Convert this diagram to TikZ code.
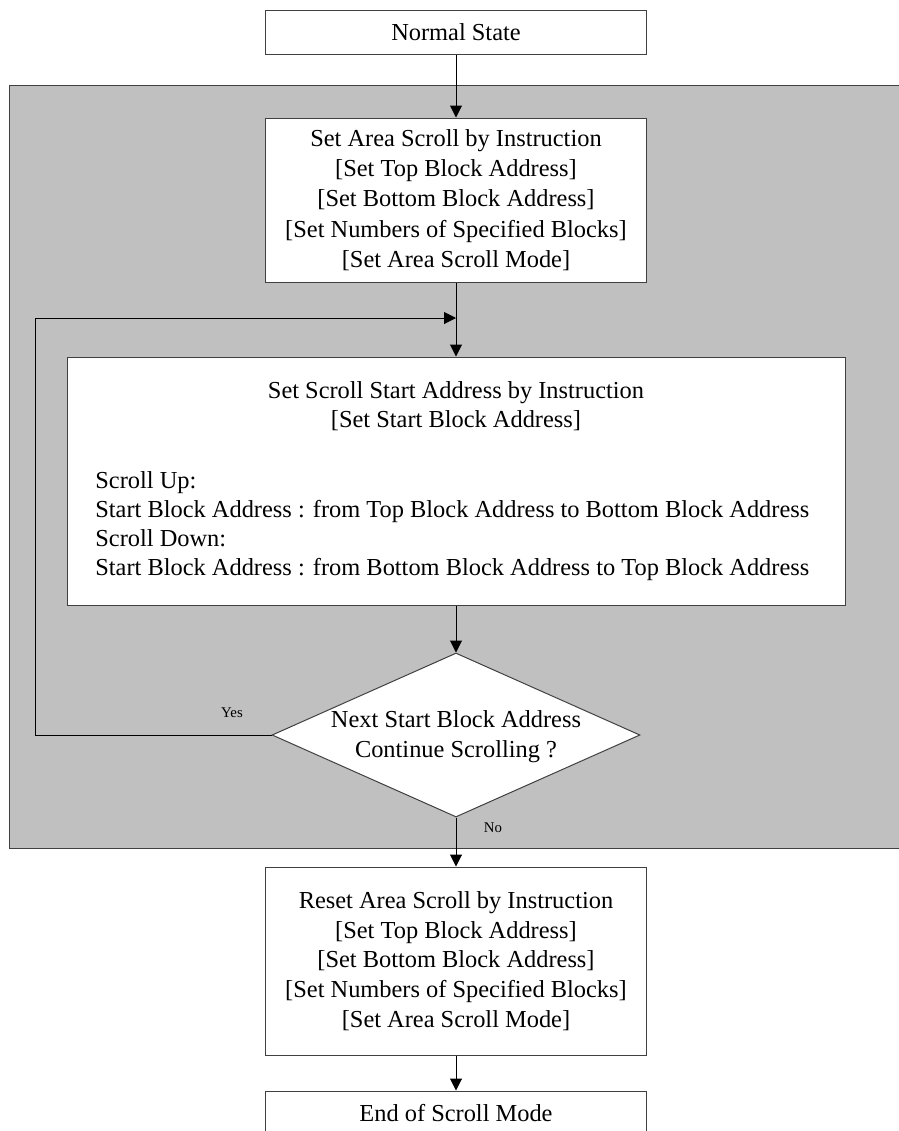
\documentclass[tikz,border=0pt]{standalone}
\usepackage{fontspec}
\setmainfont{Liberation Serif}
\usetikzlibrary{shapes.geometric,arrows.meta}
\definecolor{areagray}{RGB}{192,192,192}
\definecolor{edgegray}{RGB}{64,64,64}
\begin{document}
\begin{tikzpicture}[x=0.5pt,y=-0.5pt,
  box/.style={draw=edgegray, line width=0.5pt, fill=white, rectangle,
    minimum width=190.5pt, inner sep=0pt, align=center,
    font=\fontsize{12.2}{14.8}\selectfont},
  txt/.style={inner sep=0pt, font=\fontsize{12.2}{14.5}\selectfont},
  arr/.style={draw=black, line width=0.5pt, -{Triangle[length=6pt,width=6pt]}},
  lbl/.style={inner sep=0pt, font=\fontsize{7.4}{9}\selectfont}]
\useasboundingbox (0,0) rectangle (899,1131);
\fill[white] (0,0) rectangle (899,1131);
% grey area
\draw[draw=edgegray, fill=areagray, line width=0.5pt] (9,85) rectangle (905,848);
% nodes
\node[box, minimum height=22pt] (n1) at (456,32) {Normal State};
\node[box, minimum height=82pt, font=\fontsize{12.2}{15.1}\selectfont] (n2) at (456,200)
  {Set Area Scroll by Instruction\\{[Set Top Block Address]}\\{[Set Bottom Block Address]}\\{[Set Numbers of Specified Blocks]}\\{[Set Area Scroll Mode]}};
\node[box, minimum width=389pt, minimum height=124pt] (n3) at (456,481) {};
\node[txt, align=center] (n3a) at (456,406.5)
  {Set Scroll Start Address by Instruction\\{[Set Start Block Address]}};
\node[txt, align=left, anchor=west] (n3b) at (95,526)
  {Scroll Up:\\Start Block Address : from Top Block Address to Bottom Block Address\\Scroll Down:\\Start Block Address : from Bottom Block Address to Top Block Address};
\node[diamond, draw=edgegray, fill=white, line width=0.5pt, minimum width=184pt,
  minimum height=82pt, inner sep=0pt] (d) at (456,735) {};
\node[txt, align=center, font=\fontsize{12.2}{15}\selectfont] (dt) at (456,737)
  {Next Start Block Address\\Continue Scrolling ?};
\node[box, minimum height=94pt, font=\fontsize{12.2}{14.8}\selectfont] (n4) at (456,961)
  {Reset Area Scroll by Instruction\\{[Set Top Block Address]}\\{[Set Bottom Block Address]}\\{[Set Numbers of Specified Blocks]}\\{[Set Area Scroll Mode]}};
\node[box, minimum height=22pt] (n5) at (456,1113) {End of Scroll Mode};
% labels
\node[lbl] (yes) at (232,713) {Yes};
\node[lbl] (no) at (493,828) {No};
% connectors
\coordinate (c1) at (35,735);
\coordinate (c2) at (35,318);
\coordinate (c3) at (456,318);
\draw[arr] (n1.south) -- (n2.north);
\draw[arr] (n2.south) -- (n3.north);
\draw[arr] (n3.south) -- (d.north);
\draw[arr] (d.west) -- (c1) -- (c2) -- (c3);
\draw[arr] (d.south) -- (n4.north);
\draw[arr] (n4.south) -- (n5.north);
\end{tikzpicture}
\end{document}
